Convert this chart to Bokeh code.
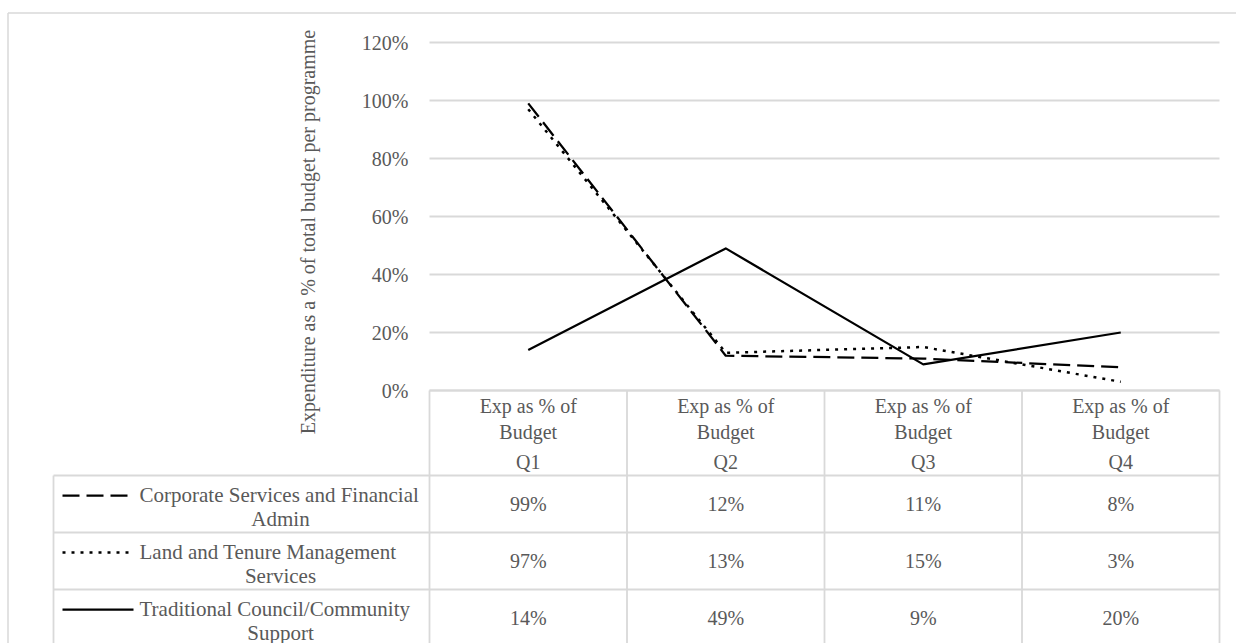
import numpy as np
from bokeh.plotting import figure
from bokeh.models import Range1d
from bokeh.core.properties import value
from bokeh.embed import file_html
from bokeh.resources import INLINE

# ---- data ----
categories = ["Q1", "Q2", "Q3", "Q4"]
category_group = ["Exp as % of", "Budget"]
series_names = [
    "Corporate Services and Financial\nAdmin",
    "Land and Tenure Management\nServices",
    "Traditional Council/Community\nSupport",
]
corporate = [99, 12, 11, 8]
land = [97, 13, 15, 3]
traditional = [14, 49, 9, 20]
y_ticks = [0, 20, 40, 60, 80, 100, 120]
y_tick_labels = ["0%", "20%", "40%", "60%", "80%", "100%", "120%"]
y_title = "Expenditure as a %  of total budget per programme"

series = [corporate, land, traditional]
dashes = ["17 7", "3 6", "solid"]
widths = [2.25, 2.5, 2.25]

# ---- layout (pixels) ----
W, H = 1236, 643
PLOT_L, PLOT_R = 429, 1219
Y0_PX, Y120_PX = 390, 42
px_per_unit_x = (PLOT_R - PLOT_L) / len(categories)
px_per_pct = (Y0_PX - Y120_PX) / 120.0

x_start = -PLOT_L / px_per_unit_x
x_end = (W - PLOT_L) / px_per_unit_x
y_start = -(H - Y0_PX) / px_per_pct
y_end = Y0_PX / px_per_pct

TEXT = "#595959"
GRID = "#d9d9d9"
FONT = value("Liberation Serif")

p = figure(width=W, height=H, x_range=Range1d(x_start, x_end),
           y_range=Range1d(y_start, y_end), output_backend="svg",
           toolbar_location=None, min_border=0)
p.extra_x_ranges = {"px": Range1d(0, W)}
p.extra_y_ranges = {"px": Range1d(H, 0)}
p.axis.visible = False
p.grid.visible = False
p.outline_line_color = None
p.background_fill_color = "white"
p.border_fill_color = "white"

# outer chart border
p.segment(x0=[7.5, 7.5], y0=[12.5, 12.5], x1=[7.5, W + 5], y1=[H + 5, 12.5],
          x_range_name="px", y_range_name="px", line_color=GRID, line_width=1.5)

# gridlines (data y)
n = len(categories)
p.segment(x0=[0] * len(y_ticks), x1=[n] * len(y_ticks), y0=y_ticks, y1=y_ticks,
          line_color=GRID, line_width=1.8)

# y tick labels
p.text(x=[408] * len(y_ticks), y=y_ticks, text=y_tick_labels, x_range_name="px",
       text_align="right", text_baseline="middle", text_font=FONT,
       text_font_size="20px", text_color=TEXT)

# y title
p.text(x=[307], y=[229], text=[y_title], angle=np.pi / 2, x_range_name="px",
       y_range_name="px", text_align="center", text_baseline="middle",
       text_font=FONT, text_font_size="20px", text_color=TEXT)

# data table grid
row_tops = [475, 532, 589, 646]
col_lines = [PLOT_L + i * px_per_unit_x for i in range(n + 1)]
hx0 = [PLOT_L] + [53] * 3
hx1 = [PLOT_R] * 4
hy = [390] + row_tops[:3]
p.segment(x0=hx0, x1=hx1, y0=hy, y1=hy, x_range_name="px", y_range_name="px",
          line_color=GRID, line_width=1.8)
vx = col_lines + [53]
vy0 = [390] * len(col_lines) + [475]
p.segment(x0=vx, x1=vx, y0=vy0, y1=[H + 5] * len(vx), x_range_name="px",
          y_range_name="px", line_color=GRID, line_width=1.8)

# header (category) labels
xc = list(np.arange(n) + 0.5)
p.text(x=xc, y=[405] * n, text=[category_group[0]] * n, y_range_name="px",
       text_align="center", text_baseline="middle", text_font=FONT,
       text_font_size="20px", text_color=TEXT)
p.text(x=xc, y=[431] * n, text=[category_group[1]] * n, y_range_name="px",
       text_align="center", text_baseline="middle", text_font=FONT,
       text_font_size="20px", text_color=TEXT)
p.text(x=xc, y=[461] * n, text=categories, y_range_name="px",
       text_align="center", text_baseline="middle", text_font=FONT,
       text_font_size="20px", text_color=TEXT)

# series lines and table rows
for k, (vals, name) in enumerate(zip(series, series_names)):
    p.line(x=xc, y=vals, line_color="black", line_width=widths[k],
           line_dash=dashes[k], line_join="round")
    top = row_tops[k]
    mid = top + 28.5
    line1, line2 = name.split("\n")
    ky = top + 20
    p.line(x=[62, 133], y=[ky, ky], x_range_name="px", y_range_name="px",
           line_color="black", line_width=widths[k], line_dash=dashes[k])
    p.text(x=[139], y=[top + 19], text=[line1], x_range_name="px",
           y_range_name="px", text_align="left", text_baseline="middle",
           text_font=FONT, text_font_size="21px", text_color=TEXT)
    p.text(x=[280], y=[top + 43], text=[line2], x_range_name="px",
           y_range_name="px", text_align="center", text_baseline="middle",
           text_font=FONT, text_font_size="21px", text_color=TEXT)
    p.text(x=xc, y=[mid] * n, text=[f"{v}%" for v in vals], y_range_name="px",
           text_align="center", text_baseline="middle", text_font=FONT,
           text_font_size="20px", text_color=TEXT)

open("out.html", "w").write(file_html(p, INLINE))
